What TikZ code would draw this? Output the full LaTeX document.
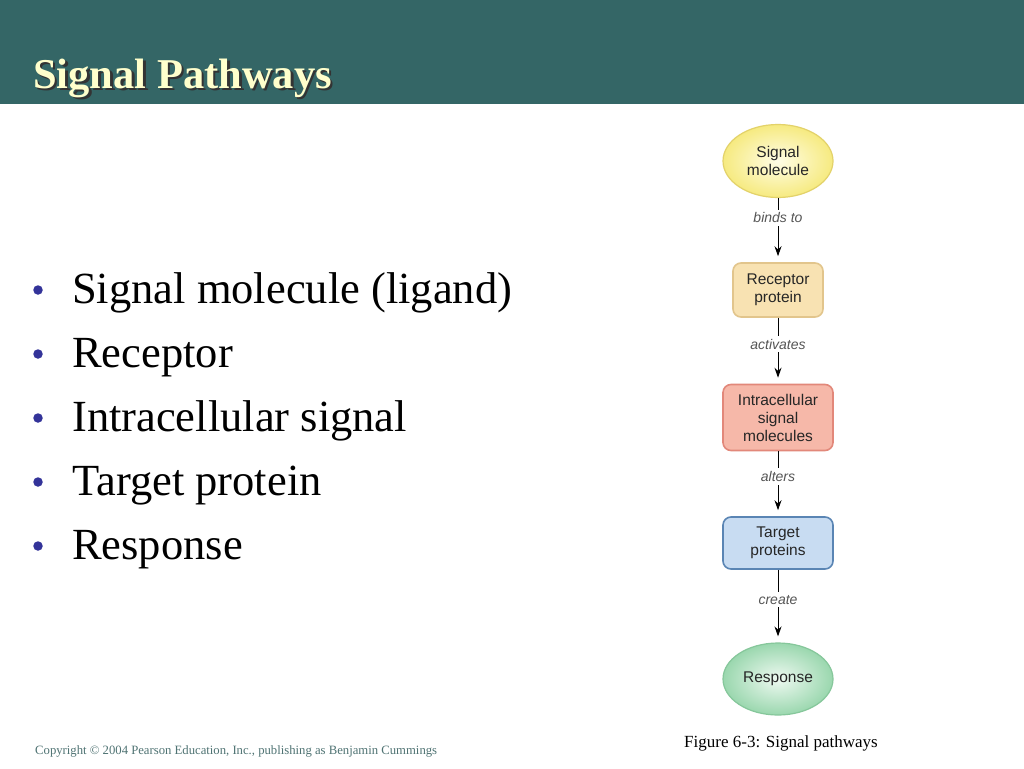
\documentclass[tikz,border=0pt]{standalone}
\usepackage{fontspec}
\setmainfont{Liberation Serif}
\newfontfamily\helv{Liberation Sans}
\usetikzlibrary{arrows.meta,shapes.geometric,positioning}
\definecolor{hdr}{HTML}{346666}
\definecolor{ttl}{HTML}{FFFFCC}
\definecolor{bul}{HTML}{333399}
\definecolor{foot}{HTML}{4F7373}
\definecolor{ylwF}{HTML}{F6EA80}
\definecolor{ylwC}{HTML}{FFFDE6}
\definecolor{ylwD}{HTML}{E3D26A}
\definecolor{recF}{HTML}{F8E2B2}
\definecolor{recD}{HTML}{E2C58C}
\definecolor{intF}{HTML}{F6B8A9}
\definecolor{intD}{HTML}{E2887A}
\definecolor{tgtF}{HTML}{C8DCF2}
\definecolor{tgtD}{HTML}{5A85B4}
\definecolor{rspF}{HTML}{9AD7AE}
\definecolor{rspC}{HTML}{EEF9F1}
\definecolor{rspD}{HTML}{86C79B}
\definecolor{lbl}{HTML}{555555}
\tikzset{
  bullettext/.style={anchor=base west,inner sep=0pt,font=\fontsize{44.5}{48}\selectfont},
  bulletdot/.style={circle,fill=bul,inner sep=0pt,minimum size=9.5pt},
  flowtext/.style={font=\helv\fontsize{15.5}{18}\selectfont,align=center,text=black!85,inner sep=0pt},
  ovalnode/.style={flowtext,ellipse,line width=1.2pt,minimum width=110pt},
  boxnode/.style={flowtext,rectangle,rounded corners=8pt,line width=1.6pt},
  flowarrow/.style={-{Stealth[length=10pt,width=7pt]},line width=1pt,shorten >=6pt},
  edgelabel/.style={font=\helv\itshape\fontsize{14}{16}\selectfont,text=lbl,fill=white,inner sep=3pt}
}
\begin{document}
\begin{tikzpicture}[x=1pt,y=-1pt]
\useasboundingbox (0,0) rectangle (1024,768);
\fill[white] (0,0) rectangle (1024,768);
% header
\fill[hdr] (0,0) rectangle (1024,104);
\node[anchor=base west,inner sep=0pt,text=ttl,font=\bfseries\fontsize{42.5}{46}\selectfont] (title) at (33,88)
  {\makebox[0pt][l]{\hspace{2.5pt}\raisebox{-2.5pt}{\color{black!80}Signal Pathways}}Signal Pathways};
% bullets
\node[bulletdot] (d1) at (38,290) {};
\node[bullettext] (b1) at (72,303) {Signal molecule (ligand)};
\node[bulletdot] (d2) at (38,354) {};
\node[bullettext] (b2) at (72,367) {Receptor};
\node[bulletdot] (d3) at (38,418) {};
\node[bullettext] (b3) at (72,431) {Intracellular signal};
\node[bulletdot] (d4) at (38,482) {};
\node[bullettext] (b4) at (72,495) {Target protein};
\node[bulletdot] (d5) at (38,546) {};
\node[bullettext] (b5) at (72,559) {Response};
% flowchart
\node[ovalnode,draw=ylwD,inner color=ylwC,outer color=ylwF,minimum height=73pt] (sig) at (778,161) {Signal\\molecule};
\node[boxnode,draw=recD,fill=recF,minimum width=90pt,minimum height=54pt] (rec) at (778,290) {Receptor\\protein};
\node[boxnode,draw=intD,fill=intF,minimum width=110pt,minimum height=66pt] (intra) at (778,417.5) {Intracellular\\signal\\molecules};
\node[boxnode,draw=tgtD,fill=tgtF,minimum width=110pt,minimum height=52pt] (tgt) at (778,543) {Target\\proteins};
\node[ovalnode,draw=rspD,inner color=rspC,outer color=rspF,minimum height=72pt] (rsp) at (778,679) {Response};
\draw[flowarrow] (sig.south) -- node[edgelabel,pos=0.31] {binds to} (rec.north);
\draw[flowarrow] (rec.south) -- node[edgelabel,pos=0.4] {activates} (intra.north);
\draw[flowarrow] (intra.south) -- node[edgelabel,pos=0.39] {alters} (tgt.north);
\draw[flowarrow] (tgt.south) -- node[edgelabel,pos=0.41] {create} (rsp.north);
% captions
\node[anchor=base west,inner sep=0pt,font=\fontsize{17}{19}\selectfont] (fig) at (684,747) {Figure 6-3: Signal pathways};
\node[anchor=base west,inner sep=0pt,text=foot,font=\fontsize{12.7}{14}\selectfont] (copy) at (35,754) {Copyright © 2004 Pearson Education, Inc., publishing as Benjamin Cummings};
\end{tikzpicture}
\end{document}
